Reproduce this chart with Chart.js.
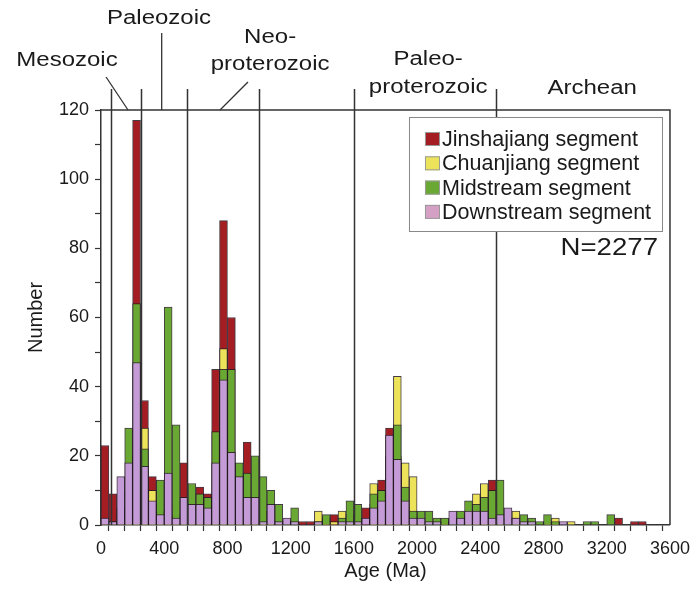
<!DOCTYPE html>
<html>
<head>
<meta charset="utf-8">
<script src="https://cdn.jsdelivr.net/npm/chart.js@4.4.1/dist/chart.umd.min.js"></script>
<style>
  html, body { margin: 0; padding: 0; background: #fff; }
  canvas { display: block; }
</style>
</head>
<body>
<canvas id="chart" width="697" height="592"></canvas>
<script>
// Detrital zircon U-Pb age histogram, 50 Ma bins from 0 to 3600 Ma
const BIN_WIDTH = 50;
const binCenters = Array.from({ length: 72 }, (_, i) => i * BIN_WIDTH + BIN_WIDTH / 2);

const seriesNames = ['Jinshajiang segment', 'Chuanjiang segment', 'Midstream segment', 'Downstream segment'];

// counts per bin (0-50, 50-100, ... 3550-3600 Ma)
const jinshajiang = [
  23, 9, 3, 10, 117, 36, 14, 4, 6, 3,
  18, 3, 11, 9, 45, 88, 60, 10, 24, 8,
  4, 2, 1, 0, 0, 1, 1, 0, 2, 3,
  0, 0, 0, 5, 6, 13, 28, 20, 5, 3,
  1, 0, 0, 0, 0, 0, 0, 3, 5, 13,
  4, 0, 0, 0, 0, 0, 0, 0, 0, 0,
  0, 0, 0, 0, 0, 2, 0, 1, 1, 0,
  0, 0
];
const chuanjiang = [
  0, 0, 0, 2, 20, 28, 10, 1, 2, 1,
  1, 1, 2, 1, 8, 51, 10, 3, 2, 2,
  1, 1, 0, 0, 0, 0, 0, 4, 1, 1,
  4, 3, 2, 0, 12, 8, 10, 43, 18, 14,
  1, 0, 0, 1, 0, 0, 3, 9, 12, 9,
  5, 0, 4, 0, 0, 0, 1, 2, 0, 1,
  0, 0, 0, 0, 0, 0, 0, 0, 0, 0,
  0, 0
];
const midstream = [
  1, 1, 5, 28, 64, 22, 6, 13, 63, 29,
  7, 12, 9, 8, 27, 45, 45, 18, 15, 20,
  14, 10, 6, 1, 5, 0, 0, 1, 3, 0,
  2, 7, 6, 0, 9, 10, 20, 29, 11, 4,
  4, 4, 2, 2, 2, 4, 7, 6, 8, 10,
  13, 2, 2, 3, 2, 1, 3, 1, 0, 0,
  0, 1, 1, 0, 3, 0, 0, 0, 0, 0,
  0, 0
];
const downstream = [
  2, 1, 14, 18, 47, 17, 7, 3, 15, 2,
  8, 6, 6, 5, 18, 42, 21, 14, 8, 8,
  1, 6, 1, 2, 1, 0, 0, 1, 0, 0,
  1, 1, 1, 2, 5, 7, 26, 19, 7, 2,
  2, 1, 1, 0, 4, 2, 4, 4, 4, 2,
  3, 5, 2, 1, 1, 0, 0, 0, 1, 0,
  0, 0, 0, 0, 0, 0, 0, 0, 0, 0,
  0, 0
];

const xTickStep = 100;       // minor ticks
const xLabelStep = 400;      // labelled ticks
const yTickStep = 10;
const yLabelStep = 20;

// geological time scale boundaries (Ma) and era names
const eraBoundaries = [66, 252, 541, 1000, 1600, 2500];
const eraNames = [['Mesozoic'], ['Paleozoic'], ['Neo-', 'proterozoic'], ['Paleo-', 'proterozoic'], ['Archean']];
const sampleCount = 'N=2277';

const colors = ['#a31d23', '#ece35a', '#6aa834', '#c49bd6'];
const swatchColors = ['#a31d23', '#ece35a', '#6aa834', '#d4a0c4'];

const toPoints = arr => arr.map((v, i) => ({ x: binCenters[i], y: v === 0 ? null : v }));
const seriesData = [jinshajiang, chuanjiang, midstream, downstream];

const datasets = seriesNames.map((name, i) => ({
  label: name,
  data: toPoints(seriesData[i]),
  backgroundColor: colors[i],
  borderColor: 'rgba(35,25,35,0.85)',
  borderWidth: 1,
  borderSkipped: 'start',
  order: seriesNames.length - i   // downstream drawn in front
}));

const FONT = '"Liberation Sans", Arial, Helvetica, sans-serif';

// era annotation layout: anchor age (Ma) and vertical offsets above plot top (px)
const eraLayout = [
  { at: -215, dy: [-50] },
  { at: 367, dy: [-92] },
  { at: 1070, dy: [-73, -46] },
  { at: 2070, dy: [-51, -23] },
  { at: 3108, dy: [-22] }
];
const eraPointers = [
  { from: [32, -33], to: [171, 0] },
  { from: [384, -77], to: [384, 0] },
  { from: [930, -28], to: [753, 0] }
];

const annotationPlugin = {
  id: 'eraAnnotations',
  afterDatasetsDraw(chart) {
    const { ctx, chartArea: a, scales: { x } } = chart;
    ctx.save();
    ctx.strokeStyle = '#333';
    ctx.lineWidth = 1.5;
    // era boundaries through the plot
    eraBoundaries.forEach(b => {
      const px = Math.round(x.getPixelForValue(b)) + 0.5;
      ctx.beginPath();
      ctx.moveTo(px, a.top - 21);
      ctx.lineTo(px, a.bottom);
      ctx.stroke();
    });
    ctx.restore();
  },
  afterDraw(chart) {
    const { ctx, chartArea: a, scales: { x } } = chart;
    ctx.save();
    // frame: top and right edges
    ctx.strokeStyle = '#333';
    ctx.lineWidth = 1.5;
    ctx.beginPath();
    ctx.moveTo(a.left, a.top);
    ctx.lineTo(a.right, a.top);
    ctx.lineTo(a.right, a.bottom);
    ctx.stroke();

    // pointers from labels to intervals
    ctx.lineWidth = 1.3;
    eraPointers.forEach(p => {
      ctx.beginPath();
      ctx.moveTo(x.getPixelForValue(p.from[0]), a.top + p.from[1]);
      ctx.lineTo(x.getPixelForValue(p.to[0]), a.top + p.to[1]);
      ctx.stroke();
    });

    // era labels (slightly wide lettering)
    ctx.fillStyle = '#1a1a1a';
    ctx.font = '20px ' + FONT;
    ctx.textAlign = 'center';
    ctx.textBaseline = 'middle';
    eraNames.forEach((lines, i) => {
      const L = eraLayout[i];
      lines.forEach((t, j) => {
        ctx.save();
        ctx.translate(x.getPixelForValue(L.at), a.top + L.dy[j]);
        ctx.scale(1.2, 1);
        ctx.fillText(t, 0, 0);
        ctx.restore();
      });
    });

    // legend box
    const bx = a.right - 261, by = a.top + 7, bw = 253, bh = 114;
    ctx.fillStyle = '#fff';
    ctx.fillRect(bx, by, bw, bh);
    ctx.strokeStyle = '#888';
    ctx.lineWidth = 1;
    ctx.strokeRect(bx + 0.5, by + 0.5, bw, bh);
    ctx.font = '21.5px ' + FONT;
    ctx.textAlign = 'left';
    seriesNames.forEach((name, i) => {
      const ry = by + 22 + i * 24.3;
      ctx.fillStyle = swatchColors[i];
      ctx.fillRect(bx + 16, ry - 7, 15, 14);
      ctx.strokeStyle = '#999';
      ctx.strokeRect(bx + 16.5, ry - 6.5, 14, 13);
      ctx.fillStyle = '#1a1a1a';
      ctx.fillText(name, bx + 33, ry + 1);
    });

    // sample count
    ctx.save();
    ctx.font = '24px ' + FONT;
    ctx.textAlign = 'right';
    ctx.translate(a.right - 12, a.top + 138);
    ctx.scale(1.15, 1);
    ctx.fillText(sampleCount, 0, 0);
    ctx.restore();
    ctx.restore();
  }
};

new Chart(document.getElementById('chart'), {
  type: 'bar',
  data: { datasets },
  options: {
    responsive: false,
    animation: false,
    layout: { padding: { top: 110, right: 27, left: 0, bottom: 0 } },
    datasets: { bar: { grouped: false, barPercentage: 1, categoryPercentage: 1 } },
    plugins: { legend: { display: false }, tooltip: { enabled: false } },
    scales: {
      x: {
        type: 'linear',
        min: 0, max: 3600,
        offset: false,
        afterFit: s => { s.height = 67; },
        afterBuildTicks: s => {
          const t = [];
          for (let v = 0; v <= 3600; v += xTickStep) t.push({ value: v });
          s.ticks = t;
        },
        ticks: {
          autoSkip: false, maxRotation: 0, padding: 7,
          color: '#1a1a1a', font: { family: FONT, size: 18 },
          callback: v => (v % xLabelStep === 0 ? String(v) : '')
        },
        grid: { drawOnChartArea: false, tickLength: 6, color: '#333', tickWidth: 1.2 },
        border: { color: '#333', width: 1.5 },
        title: { display: true, text: 'Age (Ma)', color: '#1a1a1a', font: { family: FONT, size: 20 }, padding: { top: 0, bottom: 9 } }
      },
      y: {
        min: 0, max: 120,
        afterFit: s => { s.width = 101; },
        ticks: {
          stepSize: yTickStep, autoSkip: false, padding: 6,
          color: '#1a1a1a', font: { family: FONT, size: 18 },
          callback: v => (v % yLabelStep === 0 ? String(v) : '')
        },
        grid: { drawOnChartArea: false, tickLength: 6, color: '#333', tickWidth: 1.2 },
        border: { color: '#333', width: 1.5 },
        title: { display: true, text: 'Number', color: '#1a1a1a', font: { family: FONT, size: 20 }, padding: { top: 24, bottom: 0 } }
      }
    }
  },
  plugins: [annotationPlugin]
});
</script>
</body>
</html>
